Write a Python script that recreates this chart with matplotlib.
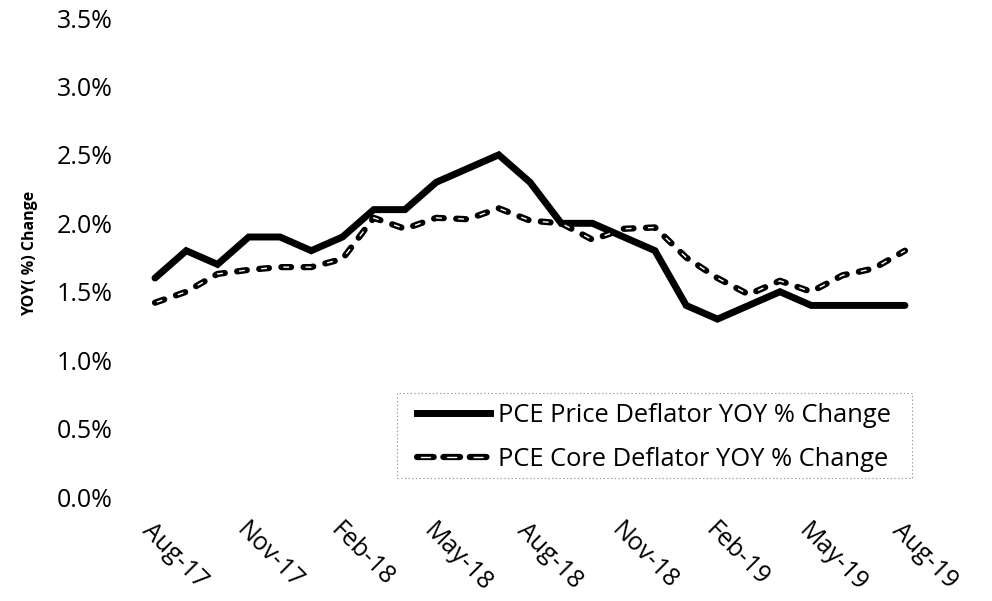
import matplotlib
matplotlib.use("Agg")
import matplotlib.pyplot as plt
from matplotlib.ticker import FuncFormatter, MultipleLocator
from matplotlib.lines import Line2D
from matplotlib.patches import Rectangle
from matplotlib.legend_handler import HandlerTuple

plt.rcParams['font.family'] = ['Open Sans', 'DejaVu Sans']
plt.rcParams['lines.scale_dashes'] = False

months = ["Aug-17", "Sep-17", "Oct-17", "Nov-17", "Dec-17", "Jan-18", "Feb-18",
          "Mar-18", "Apr-18", "May-18", "Jun-18", "Jul-18", "Aug-18", "Sep-18",
          "Oct-18", "Nov-18", "Dec-18", "Jan-19", "Feb-19", "Mar-19", "Apr-19",
          "May-19", "Jun-19", "Jul-19", "Aug-19"]
pce_headline = [1.6, 1.8, 1.7, 1.9, 1.9, 1.8, 1.9, 2.1, 2.1, 2.3, 2.4, 2.5, 2.3,
                2.0, 2.0, 1.9, 1.8, 1.4, 1.3, 1.4, 1.5, 1.4, 1.4, 1.4, 1.4]
pce_core = [1.42, 1.50, 1.63, 1.66, 1.68, 1.68, 1.74, 2.04, 1.96, 2.04, 2.03,
            2.11, 2.02, 2.00, 1.88, 1.96, 1.97, 1.75, 1.60, 1.48, 1.58, 1.50,
            1.62, 1.67, 1.80]
tick_labels = ["Aug-17", "Nov-17", "Feb-18", "May-18", "Aug-18", "Nov-18",
               "Feb-19", "May-19", "Aug-19"]
series_names = ["PCE Price Deflator YOY % Change", "PCE Core Deflator YOY % Change"]

x = list(range(len(months)))

fig = plt.figure(figsize=(9.92, 6.01), dpi=100)
ax = fig.add_axes([0.1405, 0.173, 0.7875, 0.797])

ax.plot(x, pce_headline, color='black', lw=5, solid_joinstyle='miter',
        solid_capstyle='round', zorder=3)


def hollow_dash(on, off, w_out=4.5, w_in=1.0):
    period = on + off
    outer = dict(color='black', lw=w_out, dashes=(on, off), dash_capstyle='round')
    inner = dict(color='white', lw=w_in,
                 linestyle=(period - 0.2 * on, (0.6 * on, period - 0.6 * on)))
    return outer, inner


o_kw, i_kw = hollow_dash(7.0, 9.0)
ax.plot(x, pce_core, zorder=4, **o_kw)
ax.plot(x, pce_core, zorder=5, **i_kw)

ax.set_xlim(-0.5, len(months) - 0.5)
ax.set_ylim(0, 3.5)
ax.yaxis.set_major_locator(MultipleLocator(0.5))
ax.yaxis.set_major_formatter(FuncFormatter(lambda v, p: f"{v:.1f}%"))
tick_pos = [months.index(t) for t in tick_labels]
ax.set_xticks(tick_pos)
ax.set_xticklabels(tick_labels, rotation=-45, ha='left', va='top',
                   rotation_mode='anchor')
ax.tick_params(axis='both', length=0)
ax.tick_params(axis='y', pad=19, labelsize=18)
ax.tick_params(axis='x', pad=15, labelsize=18)
for s in ax.spines.values():
    s.set_visible(False)

fig.text(0.030, 0.578, "YOY( %) Change", rotation=90, fontsize=11.5,
         fontweight='bold', ha='center', va='center')

# legend frame
fig.patches.append(Rectangle((397 / 992, 1 - 478 / 601), (912 - 397) / 992,
                             (478 - 393) / 601, transform=fig.transFigure,
                             fill=False, edgecolor='#999999', linestyle=':',
                             linewidth=0.8, zorder=6))

h1 = Line2D([], [], color='black', lw=5)
lo_kw, li_kw = hollow_dash(12.0, 7.0)
h2o = Line2D([], [], **lo_kw)
h2i = Line2D([], [], **li_kw)
leg = fig.legend([h1, (h2o, h2i)], series_names, loc='center left',
                 bbox_to_anchor=(417 / 992, 1 - 437.5 / 601),
                 fontsize=18.4, frameon=False,
                 handler_map={tuple: HandlerTuple(ndivide=1, pad=0)},
                 handlelength=2.85, handletextpad=0.3, borderpad=0,
                 labelspacing=0.76, borderaxespad=0)

fig.savefig("out.png", dpi=100)
